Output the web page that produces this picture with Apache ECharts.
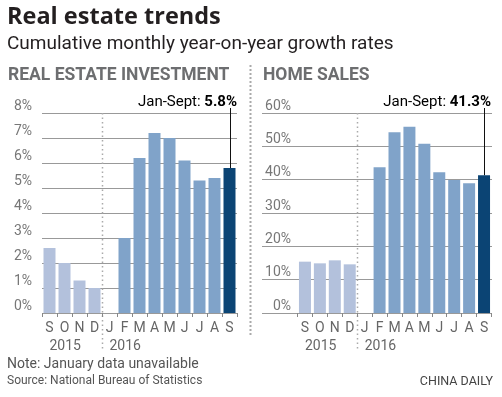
<!DOCTYPE html>
<html>
<head>
<meta charset="utf-8">
<script src="https://cdn.jsdelivr.net/npm/echarts@6/dist/echarts.min.js"></script>
<style>
  html, body { margin: 0; padding: 0; background: #fff; }
  #main { width: 502px; height: 397px; }
</style>
</head>
<body>
<div id="main"></div>
<script>
// data
var months = ['S', 'O', 'N', 'D', 'J', 'F', 'M', 'A', 'M', 'J', 'J', 'A', 'S'];
var years = ['2015', '', '', '', '2016', '', '', '', '', '', '', '', ''];
var investment = [2.6, 2.0, 1.3, 1.0, null, 3.0, 6.2, 7.2, 7.0, 6.1, 5.3, 5.4, 5.8];
var homeSales = [15.4, 14.9, 15.8, 14.6, null, 43.7, 54.2, 55.9, 50.8, 42.2, 39.9, 38.9, 41.3];
var invAxis = { min: 0, max: 8, step: 1 };
var salesAxis = { min: 0, max: 60, step: 10 };
var calloutLabel = 'Jan-Sept: ';

var c2015 = '#b3c1dc', c2016 = '#80a3c9', cLast = '#0b4474';
var gridColor = '#999';
var narrow = 'Roboto';

function barColor(p) {
  if (p.dataIndex < 4) return c2015;
  if (p.dataIndex === months.length - 1) return cLast;
  return c2016;
}

function monthAxis(grid) {
  return {
    type: 'category', gridIndex: grid, data: months,
    axisLine: { show: false },
    axisTick: { show: true, length: 4, lineStyle: { color: '#888' } },
    axisLabel: { interval: 0, margin: 8, fontFamily: narrow, fontSize: 14, color: '#666' }
  };
}
function yearAxis(grid) {
  return {
    type: 'category', gridIndex: grid, data: years, position: 'bottom', offset: 17,
    axisLine: { show: false }, axisTick: { show: false },
    axisLabel: { interval: 0, margin: 9, align: 'left', fontFamily: narrow, fontSize: 14, color: '#666' }
  };
}

var myChart = echarts.init(document.getElementById('main'));

var option = {
  animation: false,
  title: [
    { text: 'Real estate trends', left: 7, top: 5, padding: 0,
      textStyle: { fontFamily: 'Open Sans', fontWeight: 'bold', fontSize: 23.5, color: '#231f20' } },
    { text: 'Cumulative monthly year-on-year growth rates', left: 7, top: 35, padding: 0,
      textStyle: { fontFamily: 'Roboto', fontWeight: 'normal', fontSize: 19, color: '#231f20' } },
    { text: 'REAL ESTATE INVESTMENT', left: 8, top: 67, padding: 0,
      textStyle: { fontFamily: 'Roboto', fontWeight: 'bold', fontSize: 17.5, color: '#6d6e70' } },
    { text: 'HOME SALES', left: 263, top: 67, padding: 0,
      textStyle: { fontFamily: 'Roboto', fontWeight: 'bold', fontSize: 17.5, color: '#6d6e70' } },
    { text: 'Note: January data unavailable', left: 7, top: 357, padding: 0,
      textStyle: { fontFamily: 'Roboto', fontWeight: 'normal', fontSize: 14, color: '#555' } },
    { text: 'Source: National Bureau of Statistics', left: 7, top: 375, padding: 0,
      textStyle: { fontFamily: 'Roboto', fontWeight: 'normal', fontSize: 12, color: '#555' } },
    { text: 'CHINA DAILY', right: 9, top: 375, padding: 0,
      textStyle: { fontFamily: 'Roboto', fontWeight: 'normal', fontSize: 12.5, color: '#444' } }
  ],
  grid: [
    { left: 42, top: 113, width: 195, height: 200 },
    { left: 297.5, top: 113, width: 194, height: 200 },
    { left: 262, top: 113, width: 230, height: 200 }
  ],
  xAxis: [
    monthAxis(0), yearAxis(0),
    monthAxis(1), yearAxis(1),
    { type: 'category', gridIndex: 2, data: [''], show: false }
  ],
  yAxis: [
    { type: 'value', gridIndex: 0, min: invAxis.min, max: invAxis.max, interval: invAxis.step,
      axisLine: { show: false }, axisTick: { show: false },
      splitLine: { lineStyle: { color: gridColor, width: 1 } },
      axisLabel: { formatter: '{value}%', margin: 10, verticalAlign: 'bottom',
        fontFamily: narrow, fontSize: 14, color: '#777' } },
    { type: 'value', gridIndex: 1, min: salesAxis.min, max: salesAxis.max, interval: salesAxis.step, show: false },
    { type: 'value', gridIndex: 2, min: salesAxis.min, max: salesAxis.max, interval: salesAxis.step,
      axisLine: { show: false }, axisTick: { show: false },
      splitLine: { lineStyle: { color: gridColor, width: 1 } },
      axisLabel: { formatter: '{value}%', inside: true, align: 'right', margin: 29, verticalAlign: 'bottom',
        fontFamily: narrow, fontSize: 14, color: '#777' } }
  ],
  series: [
    { name: 'Investment', type: 'bar', xAxisIndex: 0, yAxisIndex: 0, data: investment,
      barWidth: 12, itemStyle: { color: barColor } },
    { name: 'Home sales', type: 'bar', xAxisIndex: 2, yAxisIndex: 1, data: homeSales,
      barWidth: 12, itemStyle: { color: barColor } }
  ]
};
myChart.setOption(option);

// dividers and callouts, placed with the chart's own scales
function extras(xIdx, yIdx, values, gridRight) {
  var last = values.length - 1;
  var d = myChart.convertToPixel({ xAxisIndex: xIdx }, 3);
  var j = myChart.convertToPixel({ xAxisIndex: xIdx }, 4);
  var divX = Math.round((d + j) / 2) + 0.5;
  var top = myChart.convertToPixel({ xAxisIndex: xIdx, yAxisIndex: yIdx }, [last, values[last]]);
  var lx = Math.round(top[0]) + 0.5;
  return [
    { type: 'line', shape: { x1: divX, y1: 113, x2: divX, y2: 350 },
      style: { stroke: '#aaa', lineWidth: 1.5, lineDash: [1.5, 3] } },
    { type: 'line', shape: { x1: lx, y1: 108, x2: lx, y2: top[1] },
      style: { stroke: '#111', lineWidth: 1 } },
    { type: 'text', x: gridRight, y: 102,
      style: { text: '{n|' + calloutLabel + '}{b|' + values[last].toFixed(1) + '%}',
        align: 'right', verticalAlign: 'middle',
        rich: {
          n: { fontFamily: narrow, fontSize: 15, color: '#111' },
          b: { fontFamily: narrow, fontSize: 15, fontWeight: 'bold', color: '#111' }
        } } }
  ];
}

var graphics = [
  { type: 'line', shape: { x1: 250.5, y1: 65, x2: 250.5, y2: 336 },
    style: { stroke: '#aaa', lineWidth: 2, lineDash: [2, 2] } }
].concat(extras(0, 0, investment, 237), extras(2, 1, homeSales, 491));

myChart.setOption({ graphic: graphics });
</script>
</body>
</html>
